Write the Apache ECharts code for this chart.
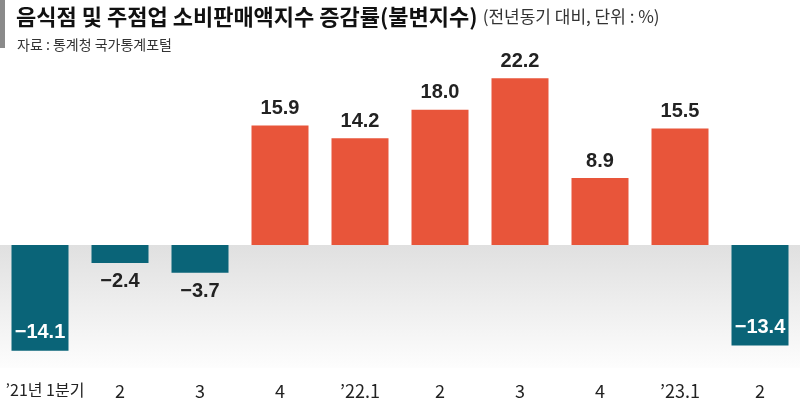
<!DOCTYPE html>
<html>
<head>
<meta charset="utf-8">
<script src="https://cdn.jsdelivr.net/npm/echarts@6/dist/echarts.min.js"></script>
<style>
  html, body { margin: 0; padding: 0; background: #fff; }
  #charts_main { width: 800px; height: 400px; }
</style>
</head>
<body>
<div id="charts_main"></div>
<script>
// 분기 라벨
const categories = ['’21년 1분기', '2', '3', '4', '’22.1', '2', '3', '4', '’23.1', '2'];
// 전년동기 대비 증감률 (%)
const values = [-14.1, -2.4, -3.7, 15.9, 14.2, 18.0, 22.2, 8.9, 15.5, -13.4];

const POS = '#e8553a';
const NEG = '#0a6478';
const numFont = '"Liberation Sans Narrow", "Liberation Sans", Roboto, sans-serif';
const krFont = '"Noto Sans CJK KR", sans-serif';

function fmt(v) {
  return (v < 0 ? '−' : '') + Math.abs(v).toFixed(1);
}

// 막대별 라벨 위치: 양수는 위, 작은 음수는 아래, 큰 음수는 막대 안쪽
const barData = values.map(function (v) {
  let label;
  if (v >= 0) {
    label = { position: 'top', distance: 7, color: '#222' };
  } else if (v > -8) {
    label = { position: 'bottom', distance: 9, color: '#222' };
  } else {
    label = { position: 'insideBottom', distance: 8, color: '#fff' };
  }
  return { value: v, itemStyle: { color: v >= 0 ? POS : NEG }, label: label };
});

let Chart = echarts.init(document.getElementById('charts_main'));

let option = {
  animation: false,
  title: [
    {
      left: 11,
      top: 1,
      text: '{b|음식점 및 주점업 소비판매액지수 증감률(불변지수)} {n|(전년동기 대비, 단위 : %)}',
      textStyle: {
        rich: {
          b: { fontSize: 22, fontWeight: 'bold', color: '#111', fontFamily: krFont },
          n: { fontSize: 17, fontWeight: 'normal', color: '#333', fontFamily: krFont }
        }
      }
    },
    {
      left: 12,
      top: 33,
      text: '자료 : 통계청 국가통계포털',
      textStyle: { fontSize: 14, fontWeight: 'normal', color: '#333', fontFamily: krFont }
    }
  ],
  graphic: [
    { type: 'rect', left: 0, top: 0, shape: { width: 5, height: 48 }, style: { fill: '#8a8a8a' } }
  ],
  grid: { left: 0, right: 0, top: 55, bottom: 32, outerBoundsMode: 'none' },
  xAxis: {
    type: 'category',
    data: categories,
    axisLine: { lineStyle: { color: '#555', width: 1 } },
    axisTick: { inside: true, length: 6, lineStyle: { color: '#555' } },
    axisLabel: {
      color: '#222',
      fontSize: 18,
      margin: 14,
      fontFamily: krFont,
      interval: 0,
      // 첫 라벨은 길어서 왼쪽 끝이 잘리지 않도록 조금 작게, 오른쪽으로 밀어줌
      formatter: function (v, i) { return i === 0 ? '{first|' + v + '}' : v; },
      rich: {
        first: { fontSize: 16, color: '#222', fontFamily: krFont, padding: [0, 0, 0, 10] }
      }
    }
  },
  yAxis: {
    type: 'value',
    min: -16.4,
    max: 25.3,
    show: false,
    splitLine: { show: false }
  },
  series: [
    {
      type: 'bar',
      barWidth: 57,
      data: barData,
      label: {
        show: true,
        fontSize: 20,
        fontWeight: 'bold',
        fontFamily: numFont,
        formatter: function (p) { return fmt(p.value); }
      },
      markArea: {
        silent: true,
        itemStyle: {
          color: new echarts.graphic.LinearGradient(0, 0, 0, 1, [
            { offset: 0, color: '#e0e0e0' },
            { offset: 1, color: '#fdfdfd' }
          ])
        },
        data: [[{ yAxis: 0 }, { yAxis: -16.4 }]]
      },
      z: 3
    }
  ]
};

Chart.setOption(option);
</script>
</body>
</html>
